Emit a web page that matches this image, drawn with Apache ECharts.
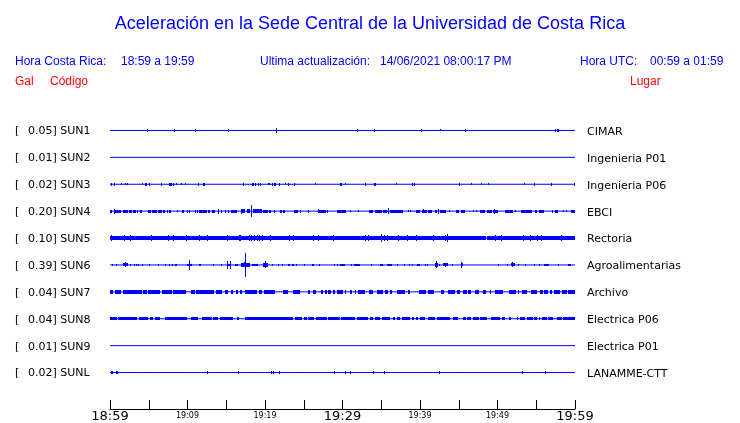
<!DOCTYPE html>
<html><head><meta charset="utf-8">
<script src="https://cdn.jsdelivr.net/npm/echarts@6/dist/echarts.min.js"></script>
<style>html,body{margin:0;padding:0;background:#fff}#c{width:740px;height:423px}</style>
</head><body><div id="c"></div>
<script>
// ---- texts ----
const titleText = "Aceleración en la Sede Central de la Universidad de Costa Rica";
const localLabel = "Hora Costa Rica:";
const localRange = "18:59 a 19:59";
const updateLabel = "Ultima actualización:";
const updateValue = "14/06/2021 08:00:17 PM";
const utcLabel = "Hora UTC:";
const utcRange = "00:59 a 01:59";
const colGal = "Gal", colCode = "Código", colPlace = "Lugar";

// ---- stations ----
const codes = ["SUN1","SUN2","SUN3","SUN4","SUN5","SUN6","SUN7","SUN8","SUN9","SUNL"];
const peaks = ["0.05","0.01","0.02","0.20","0.10","0.39","0.04","0.04","0.01","0.02"];
const places = ["CIMAR","Ingenieria P01","Ingenieria P06","EBCI","Rectoria","Agroalimentarias","Archivo","Electrica P06","Electrica P01","LANAMME-CTT"];
const xTickLabels = ["18:59","19:09","19:19","19:29","19:39","19:49","19:59"];
// default burst amplitude per station (used when an event has no own amplitude)
const burstAmp = [1.7,1.0,1.5,1.6,1.8,1.4,1.7,1.7,1.0,1.5];

// events: [startMinute, endMinute, amplitude]
const sun1 = [[4.81,4.81],[8.30,8.30],[11.01,11.01],[15.26,15.26],[21.46,21.46,2.1],[31.91,31.91],[34.10,34.10],[40.17,40.17],[42.62,42.62,1.0],[45.85,45.85],[57.46,57.46],[57.72,57.98]];
const sun2 = [];
const sun3 = [[0.13,0.13],[0.52,0.52],[1.42,1.42,0.9],[2.03,2.03,0.9],[2.23,2.23,1.1],[4.17,4.17,1.0],[4.48,4.74],[5.07,5.07],[6.62,6.62],[7.65,8.0],[8.17,8.17,1.3],[8.55,8.55,0.9],[9.2,9.2,0.9],[9.72,9.72,0.9],[11.39,11.39],[12.0,12.22],[17.2,17.2],[18.32,18.54],[18.75,18.75],[19.14,19.14],[19.48,19.48],[20.43,20.65,1.2],[20.94,20.94],[21.2,21.38],[21.85,21.85],[22.62,22.62,1.2],[22.97,22.97],[23.78,23.78],[26.49,26.49,0.9],[29.72,29.9],[30.36,30.36,0.9],[33.03,33.03],[34.1,34.1],[34.32,34.32],[36.94,36.94,0.9],[39.0,39.0],[39.23,39.23],[45.07,45.07],[46.62,46.62,0.9],[47.91,47.91,0.9],[48.81,48.81,0.9],[53.42,53.42,1.2],[54.75,54.75],[56.94,56.94],[59.91,59.91]];
const sun4 = [[0,0.30],[0.56,0.56,2.5],[0.65,1.42],[1.63,2.37],[2.45,2.80],[3.01,3.31],[3.44,3.66],[3.83,4.09],[4.95,5.29],[5.38,6.02],[6.24,6.67],[6.88,7.10],[7.31,7.53],[7.66,7.83],[8.69,8.69,1.0],[9.33,9.51],[9.89,10.11],[10.32,10.32],[10.97,10.97],[11.23,11.23],[11.53,12.47],[12.69,12.90],[13.20,13.55],[13.89,14.06],[13.97,13.97,2.5],[14.41,14.41],[14.84,14.84],[15.27,15.35],[15.57,16.34],[16.86,17.42,1.8],[17.0,17.0,2.5],[17.63,18.11,1.8],[18.32,18.32,6.3],[18.49,19.57,1.8],[19.78,20.43],[20.56,20.73],[21.29,21.29],[21.94,22.15],[22.37,22.58],[23.74,24.22],[24.52,24.52],[25.51,25.68],[26.8,27.83],[26.89,26.89,2.2],[28.09,28.17],[29.25,30.45],[30.97,30.97,1.2],[32.04,32.04,1.0],[33.46,33.98],[34.19,35.05],[35.27,35.70],[35.91,35.91,3.0],[36.13,37.85],[38.58,38.58,1.2],[38.80,38.80,1.2],[39.48,40.0],[40.22,40.86],[40.5,40.5,2.2],[41.08,41.51],[41.94,42.24],[42.45,42.45,2.5],[42.58,43.35],[43.87,43.87,1.2],[44.69,45.0],[45.25,45.81],[46.88,46.88,1.0],[47.27,47.27,1.2],[47.74,48.39],[48.60,49.25],[49.46,50.11],[49.59,49.59,2.5],[50.97,51.31],[51.40,51.96],[52.26,52.26,1.2],[53.03,54.41],[54.84,55.14],[55.35,56.0],[56.99,57.20],[57.42,57.76],[58.58,58.58,1.0],[58.92,58.92,1.2],[59.44,60]];
const sun5 = [[0,48.47],[48.6,60],[0.22,0.22,3.0],[1.81,1.81,3.0],[2.62,2.62,3.0],[5.38,5.38,3.0],[7.53,7.53,3.0],[8.17,8.17,3.0],[9.89,9.89,3.0],[11.53,11.53,3.0],[12.6,12.6,3.0],[15.18,15.18,3.0],[16.65,16.65,3.0],[16.9,16.9,3.0],[17.98,17.98,3.0],[18.28,18.28,3.0],[18.67,18.67,3.0],[19.05,19.05,3.0],[19.35,19.35,3.0],[19.66,19.66,3.0],[20.69,20.69,3.0],[23.14,23.14,3.0],[23.74,23.74,3.0],[26.28,26.28,3.0],[26.88,26.88,3.0],[28.86,28.86,3.0],[32.99,32.99,3.0],[33.33,33.33,3.0],[35.01,35.01,4.2],[35.4,35.4,3.0],[35.83,35.83,3.0],[37.29,37.29,3.0],[38.41,38.41,3.0],[39.57,39.57,3.0],[41.72,41.72,3.0],[43.35,43.35,3.0],[43.57,43.57,3.8],[49.68,49.68,3.0],[50.49,50.49,3.0],[53.33,53.33,3.0],[54.27,54.27,3.0],[55.14,55.14,3.0],[55.74,55.74,3.0],[58.24,58.24,3.0]];
const sun6 = [[0.30,0.30,0.8],[0.86,0.86,0.8],[1.72,2.28,1.5],[2.02,2.02,2.5],[2.67,2.67,1.3],[3.14,3.14,1.2],[3.44,3.44,1.2],[3.74,3.74,1.2],[4.09,4.30],[5.08,5.08,1.2],[6.24,6.24,1.2],[7.1,7.1,1.2],[7.66,7.66,1.2],[8.09,8.09,1.2],[8.39,8.6],[9.89,10.62],[10.28,10.28,5.0],[11.53,11.7],[13.33,13.33,0.8],[14.37,14.37,1.2],[15.05,15.61],[15.1,15.1,4.0],[15.53,15.53,4.0],[16.13,16.56],[16.9,18.06,1.6],[17.3,17.6,2.5],[17.46,17.46,11.7],[18.28,19.05],[19.78,20.34,1.8],[20.04,20.04,3.5],[20.95,20.95,1.2],[21.72,21.72,1.2],[22.28,22.28,1.2],[22.92,23.23],[23.44,23.78],[24.09,24.09,1.2],[25.08,25.08,1.2],[26.02,26.32],[27.01,27.01,1.2],[28.95,28.95,1.2],[29.33,29.33,1.2],[29.68,30.15],[30.32,30.32,1.0],[31.18,31.18,1.0],[31.53,32.26],[33.68,33.68,1.2],[34.84,35.18],[35.78,36.34],[37.08,37.08,1.0],[37.98,37.98,1.0],[38.58,38.71],[38.92,39.14],[39.66,40.0],[40.65,40.65,1.2],[40.99,40.99,1.2],[41.94,42.28,1.6],[42.11,42.11,3.5],[42.58,42.67],[43.01,43.66,1.5],[43.23,43.23,2.2],[44.09,44.3],[45.29,45.59,1.5],[45.38,45.38,3.0],[50.11,50.11,1.2],[51.18,51.4],[51.74,52.26,1.5],[51.96,51.96,2.5],[52.77,52.77,1.2],[53.59,53.59,1.2],[54.75,54.75,1.2],[55.48,55.48,1.2],[56.04,56.69],[57.85,57.85,1.0],[59.14,59.44]];
const sun7 = [[0,0.43],[0.65,1.42],[1.72,4.09],[4.30,4.73],[4.86,6.45],[6.75,7.96],[8.09,9.81],[10.45,10.97],[11.1,13.42],[13.68,14.41],[14.84,15.27],[15.61,15.91],[16.22,16.56],[16.77,17.08],[17.42,19.01],[19.27,19.57],[19.91,21.29],[22.37,22.92],[23.57,24.52],[25.51,25.85],[26.15,26.58],[27.23,27.53],[27.74,27.96],[28.17,28.52],[28.82,29.03],[29.29,30.11],[30.32,30.45],[30.97,31.18],[31.74,31.74],[32.04,32.9],[33.46,33.98],[34.41,35.27],[35.48,35.91],[36.13,36.43],[36.99,38.06],[38.49,38.71],[39.87,40.77],[41.08,41.81],[42.75,43.1],[43.66,44.56],[44.82,45.16],[45.59,46.02],[46.24,46.54],[47.1,47.66],[48.17,48.52],[49.03,49.16],[49.68,50.75],[51.53,52.34],[52.6,52.82],[53.12,53.76],[54.32,55.05],[55.48,55.91],[56.04,56.56],[56.77,56.99],[57.33,58.06],[58.28,58.92],[59.14,60]];
const sun8 = [[0,0.95],[1.08,3.53],[3.78,4.95],[5.16,5.59],[5.81,6.45],[7.1,9.89],[10.45,11.31],[11.83,13.12],[13.33,13.98],[14.19,15.91],[16.34,16.65],[17.42,23.66],[23.87,24.73],[25.03,25.38],[25.59,26.37],[26.58,27.96],[28.09,29.68],[29.81,31.61],[31.91,33.33],[33.55,33.98],[34.19,34.84],[35.14,36.13],[36.56,36.77],[36.99,37.42],[37.68,38.71],[38.92,39.23],[39.44,39.78],[40.0,40.65],[41.08,41.94],[42.15,43.87],[44.3,44.95],[45.51,45.94],[46.02,46.54],[46.8,47.66],[47.74,48.69],[49.16,50.28],[50.62,50.92],[51.53,51.7],[52.47,52.69],[52.9,53.55],[53.76,54.54],[54.71,55.05],[55.4,55.48],[55.7,56.34],[56.56,57.2],[57.63,58.28],[58.49,60]];
const sun9 = [];
const sunl = [[0.13,0.34],[0.77,0.99],[3.14,3.14,0.8],[4.82,4.82,0.8],[6.75,6.75,0.8],[8.17,8.17,0.8],[9.46,9.46,0.8],[12.47,12.69,1.8],[14.49,14.49,0.8],[16.56,16.56],[17.98,17.98,0.8],[20.86,20.86],[21.16,21.16],[21.81,21.98],[24.43,24.43,0.8],[29.03,29.03],[30.45,30.45],[30.97,30.97],[33.98,33.98],[35.48,35.48],[41.2,41.2,0.8],[42.58,42.58],[45.16,45.16,0.8],[53.2,53.2],[55.48,55.48,0.8],[56.13,56.13]];
const traces = [sun1,sun2,sun3,sun4,sun5,sun6,sun7,sun8,sun9,sunl];

// ---- build ----
const BLUE = '#0000ff', RED = '#ff0000';
const AMP_TO_Y = 1/27;          // amplitude units -> row units
const nRows = codes.length;
const rowValue = i => nRows - i;  // top row has highest value

const events = [];
traces.forEach((tr, i) => {
  tr.forEach(e => events.push([e[0], e[1], rowValue(i), e.length > 2 ? e[2] : burstAmp[i]]));
});

const baseSeries = codes.map((c, i) => ({
  type: 'line', xAxisIndex: 0, yAxisIndex: 2, symbol: 'none', silent: true,
  lineStyle: { color: BLUE, width: 1 },
  data: [[0, rowValue(i)], [60, rowValue(i)]]
}));

function renderEvent(params, api) {
  const t0 = api.value(0), t1 = api.value(1), row = api.value(2), amp = api.value(3);
  const a = api.coord([t0, row + amp * AMP_TO_Y]);
  const b = api.coord([t1, row - amp * AMP_TO_Y]);
  let x = Math.min(a[0], b[0]);
  let w = Math.abs(b[0] - a[0]);
  if (w < 1) { x = Math.round(x - 0.5); w = 1; }
  else { const x2 = Math.round(x + w); x = Math.round(x); w = Math.max(1, x2 - x); }
  const y0 = Math.round(a[1]), y1 = Math.round(b[1]);
  return { type: 'rect', shape: { x: x, y: y0, width: w, height: Math.max(1, y1 - y0) }, style: { fill: BLUE } };
}

const hdr = (text, left, top, color, size) => ({
  text: text, left: left, top: top, padding: 0,
  textStyle: { fontFamily: 'Liberation Sans', fontSize: size || 12, fontWeight: 'normal', color: color || BLUE }
});

const option = {
  animation: false,
  backgroundColor: '#fff',
  textStyle: { fontFamily: 'DejaVu Sans' },
  title: [
    hdr(titleText, 'center', 15, BLUE, 18),
    hdr(localLabel, 15, 56), hdr(localRange, 121, 56),
    hdr(updateLabel, 260, 56), hdr(updateValue, 380, 56),
    hdr(utcLabel, 580, 56), hdr(utcRange, 650, 56),
    hdr(colGal, 15, 76, RED), hdr(colCode, 50, 76, RED), hdr(colPlace, 630, 76, RED)
  ],
  grid: { left: 110, right: 165, top: 117, height: 270 },
  xAxis: {
    type: 'value', min: 0, max: 60, interval: 5, offset: 23,
    axisLine: { show: true, lineStyle: { color: '#000', width: 1 } },
    axisTick: { show: true, inside: true, length: 9, lineStyle: { color: '#000', width: 1 } },
    splitLine: { show: false },
    axisLabel: {
      margin: 1, color: '#000',
      formatter: v => {
        if (v % 10 !== 0) return '';
        const i = v / 10;
        return (i % 3 === 0) ? '{big|' + xTickLabels[i] + '}' : '{small|' + xTickLabels[i] + '}';
      },
      rich: {
        big: { fontFamily: 'DejaVu Sans', fontSize: 13, color: '#000' },
        small: { fontFamily: 'DejaVu Sans', fontSize: 8, color: '#000', padding: [2, 0, 0, 0] }
      }
    }
  },
  yAxis: [
    {
      type: 'category', position: 'left', inverse: true, data: codes,
      axisLine: { show: false }, axisTick: { show: false }, splitLine: { show: false },
      axisLabel: {
        align: 'left', margin: 95, color: '#000', fontFamily: 'DejaVu Sans', fontSize: 11,
        formatter: (v, idx) => '{a|[}{b|' + peaks[idx] + '] ' + v + '}',
        rich: {
          a: { width: 13, fontFamily: 'DejaVu Sans', fontSize: 11, color: '#000', padding: [2, 0, 0, 0] },
          b: { fontFamily: 'DejaVu Sans', fontSize: 11, color: '#000', padding: [2, 0, 0, 0] }
        }
      }
    },
    {
      type: 'category', position: 'right', inverse: true, data: places,
      axisLine: { show: false }, axisTick: { show: false }, splitLine: { show: false },
      axisLabel: {
        margin: 12, color: '#000', fontFamily: 'DejaVu Sans', fontSize: 11,
        formatter: v => '{p|' + v + '}',
        rich: { p: { fontFamily: 'DejaVu Sans', fontSize: 11, color: '#000', padding: [3, 0, 0, 0] } }
      }
    },
    {
      type: 'value', min: 0.5, max: nRows + 0.5, show: false, splitLine: { show: false }
    }
  ],
  series: baseSeries.concat([{
    type: 'custom', xAxisIndex: 0, yAxisIndex: 2, silent: true,
    renderItem: renderEvent,
    encode: { x: [0, 1], y: 2 },
    data: events
  }])
};

const chart = echarts.init(document.getElementById('c'), null, { renderer: 'canvas' });
chart.setOption(option);
</script>
</body></html>
